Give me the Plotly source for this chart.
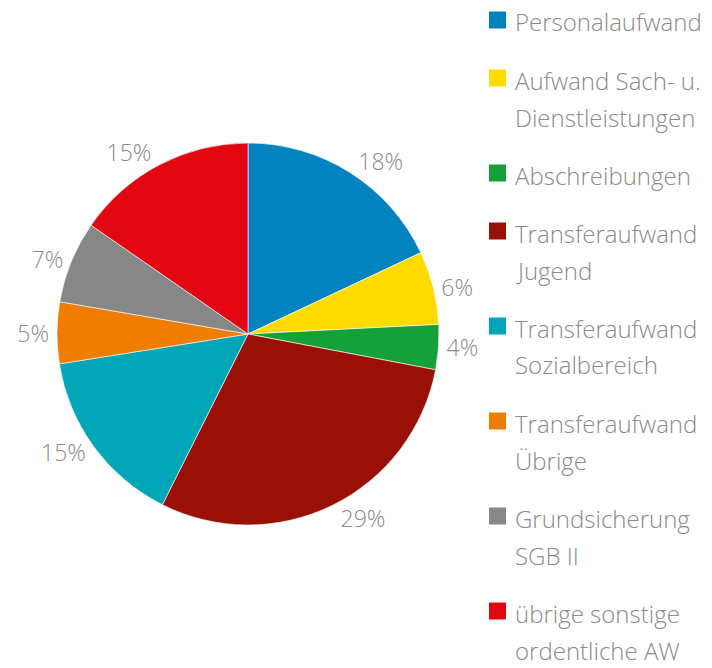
import plotly.graph_objects as go

legend_labels = [
    ["Personalaufwand"],
    ["Aufwand Sach- u.", "Dienstleistungen"],
    ["Abschreibungen"],
    ["Transferaufwand", "Jugend"],
    ["Transferaufwand", "Sozialbereich"],
    ["Transferaufwand", "Übrige"],
    ["Grundsicherung", "SGB II"],
    ["übrige sonstige", "ordentliche AW"],
]
values = [18.0, 6.2, 3.8, 29.4, 15.1, 5.2, 6.95, 15.35]
colors = ["#0083BE", "#FFDC00", "#16A039", "#9B1006", "#00A5B8", "#EF7D00", "#878787", "#E20613"]

W, H = 712, 668
cx, cy, r = 248, 334, 191
TEXT = "#8a8a8a"
FONT = "Open Sans"

names = [" ".join(l) for l in legend_labels]

fig = go.Figure(go.Pie(
    labels=names,
    values=values,
    sort=False,
    direction="clockwise",
    rotation=0,
    marker=dict(colors=colors, line=dict(color="white", width=0.6)),
    textinfo="percent",
    texttemplate="%{percent:.0%}",
    textposition="outside",
    outsidetextfont=dict(color=TEXT, size=23, family=FONT, weight=300),
    domain=dict(x=[(cx - r) / W, (cx + r) / W], y=[1 - (cy + r) / H, 1 - (cy - r) / H]),
    hoverinfo="label+percent",
    showlegend=False,
))

# Legend drawn as layout items (squares + text lines), positioned like the reference
first_line_y = 20
line_step = 37
item_gap = 58
shapes, annotations = [], []
y = first_line_y
for lab, col in zip(legend_labels, colors):
    shapes.append(dict(
        type="rect", xref="paper", yref="paper",
        x0=489 / W, x1=506 / W, y0=1 - (y + 8.5) / H, y1=1 - (y - 8.5) / H,
        fillcolor=col, line=dict(width=0),
    ))
    for i, line in enumerate(lab):
        annotations.append(dict(
            text=line, xref="paper", yref="paper",
            x=513 / W, y=1 - (y + i * line_step + 2) / H,
            xanchor="left", yanchor="middle", showarrow=False,
            font=dict(color=TEXT, size=24, family=FONT, weight=300),
        ))
    y += (len(lab) - 1) * line_step + item_gap

fig.update_layout(
    width=W, height=H,
    margin=dict(l=0, r=0, t=0, b=0),
    paper_bgcolor="white",
    plot_bgcolor="white",
    shapes=shapes,
    annotations=annotations,
)

fig.write_html("out.html")
